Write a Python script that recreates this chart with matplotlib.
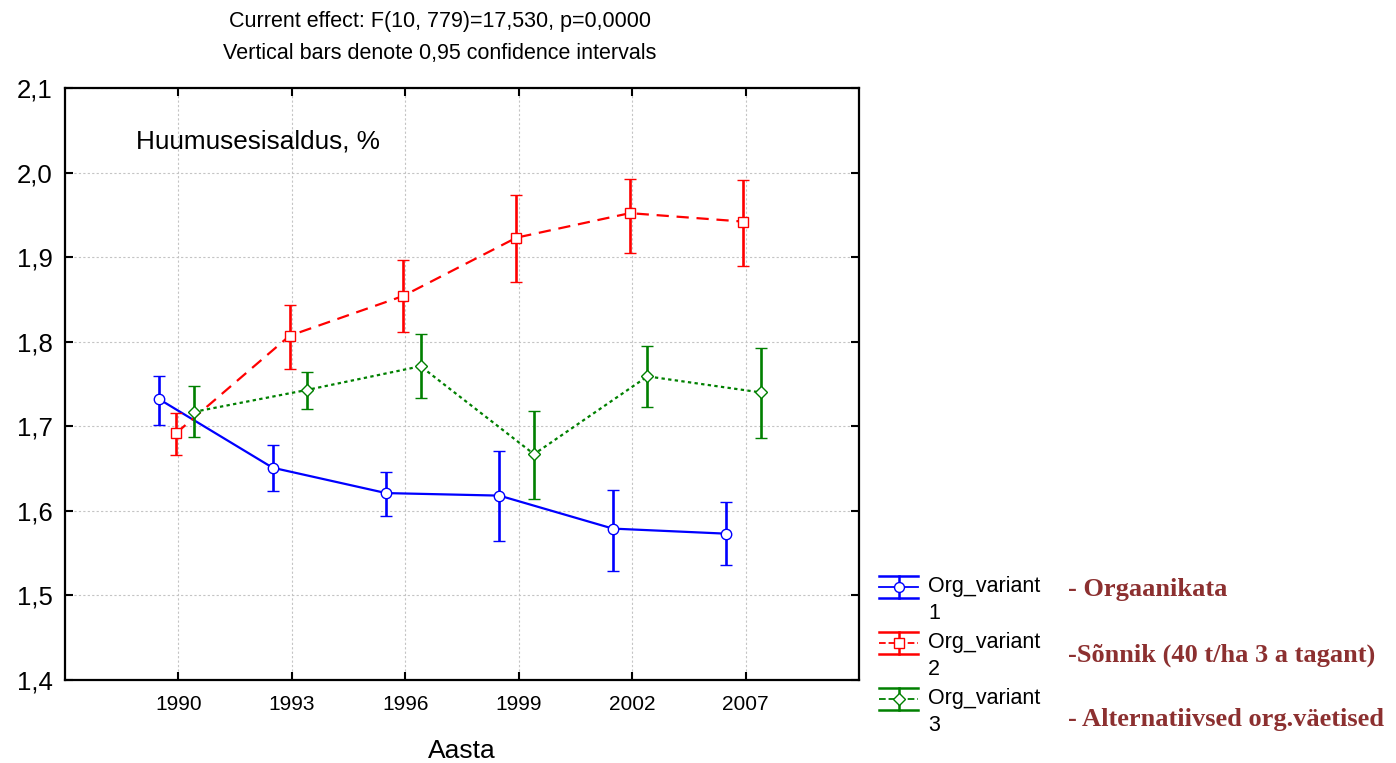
import numpy as np
import matplotlib
matplotlib.use('Agg')
import matplotlib.pyplot as plt
from matplotlib.lines import Line2D
from matplotlib.legend_handler import HandlerBase

plt.rcParams['font.family'] = ['Liberation Sans', 'DejaVu Sans']

years = ['1990', '1993', '1996', '1999', '2002', '2007']
series_names = ['Org_variant\n1', 'Org_variant\n2', 'Org_variant\n3']
descriptions = ['- Orgaanikata', '-Sõnnik (40 t/ha 3 a tagant)', '- Alternatiivsed org.väetised']

# means and 0.95 confidence limits
mean1 = [1.732, 1.651, 1.621, 1.618, 1.579, 1.573]
low1 = [1.701, 1.623, 1.594, 1.564, 1.529, 1.536]
high1 = [1.760, 1.678, 1.646, 1.671, 1.625, 1.610]

mean2 = [1.692, 1.807, 1.854, 1.923, 1.952, 1.942]
low2 = [1.666, 1.768, 1.811, 1.870, 1.905, 1.890]
high2 = [1.716, 1.843, 1.897, 1.973, 1.992, 1.991]

mean3 = [1.717, 1.743, 1.771, 1.667, 1.759, 1.740]
low3 = [1.687, 1.721, 1.734, 1.614, 1.723, 1.686]
high3 = [1.748, 1.764, 1.809, 1.718, 1.795, 1.793]

colors = ['#0000ff', '#ff0000', '#008000']
markers = ['o', 's', 'D']
msizes = [7.5, 7, 6.5]
styles = ['-', (0, (5.5, 3.5)), (0, (1.5, 1.5))]
offsets = [-0.17, -0.02, 0.135]


class HandlerCI(HandlerBase):
    # statistica-like legend key: whisker box with line and marker in the middle
    def create_artists(self, legend, orig_handle, xdescent, ydescent,
                       width, height, fontsize, trans):
        c = orig_handle.get_color()
        yc = height / 2 - ydescent + 10.0
        x0, x1 = -xdescent, -xdescent + width
        xm = (x0 + x1) / 2
        top, bot = yc + 8.0, yc - 8.0
        arts = [
            Line2D([x0, x1], [top, top], color=c, lw=1.8),
            Line2D([x0, x1], [bot, bot], color=c, lw=1.8),
            Line2D([xm, xm], [bot, top], color=c, lw=1.8),
            Line2D([x0, x1], [yc, yc], color=c, lw=1.3, linestyle=orig_handle.get_linestyle()),
            Line2D([xm], [yc], color=c, marker=orig_handle.get_marker(),
                   markersize=orig_handle.get_markersize() * 0.95,
                   markerfacecolor='white', markeredgewidth=1.0, linestyle='none'),
        ]
        for a in arts:
            a.set_transform(trans)
        return arts


fig = plt.figure(figsize=(13.96, 7.63), dpi=100)
ax = fig.add_axes([0.0466, 0.1088, 0.5687, 0.7759])

x = np.arange(len(years))
data = [(mean1, low1, high1), (mean2, low2, high2), (mean3, low3, high3)]
handles = []
for i, (m, lo, hi) in enumerate(data):
    m = np.array(m)
    err = [m - np.array(lo), np.array(hi) - m]
    ax.errorbar(x + offsets[i], m, yerr=err, color=colors[i], linestyle=styles[i],
                linewidth=1.6, marker=markers[i], markersize=msizes[i],
                markerfacecolor='white', markeredgewidth=1.0,
                elinewidth=1.9, capsize=4.5, capthick=1.9, zorder=3 + i)
    handles.append(Line2D([], [], color=colors[i], linestyle=styles[i], marker=markers[i],
                          markersize=msizes[i]))

ax.set_xlim(-1, 6)
ax.set_ylim(1.4, 2.1)
ax.set_xticks(x)
ax.set_xticklabels(years, fontsize=15)
yt = np.arange(1.4, 2.11, 0.1)
ax.set_yticks(yt)
ax.set_yticklabels([f'{v:.1f}'.replace('.', ',') for v in yt], fontsize=18.5)
ax.tick_params(direction='in', top=True, right=True, length=6, width=1.5)
ax.tick_params(axis='x', pad=11)
ax.tick_params(axis='y', pad=9)
for sp in ax.spines.values():
    sp.set_linewidth(1.6)
ax.grid(True, color='#c4c4c4', linestyle=(0, (2, 2)), linewidth=0.8)
ax.set_axisbelow(True)

ax.set_xlabel('Aasta', fontsize=19, labelpad=18)
ax.text(0.089, 0.909, 'Huumusesisaldus, %', transform=ax.transAxes,
        fontsize=18.8, ha='left', va='center')

fig.text(0.315, 0.972, 'Current effect: F(10, 779)=17,530, p=0,0000',
         ha='center', va='center', fontsize=15.5)
fig.text(0.315, 0.930, 'Vertical bars denote 0,95 confidence intervals',
         ha='center', va='center', fontsize=15.5)

leg = fig.legend(handles, series_names, handler_map={Line2D: HandlerCI()},
                 loc='upper left', bbox_to_anchor=(0.630, 0.245), frameon=False,
                 fontsize=15.5, handlelength=1.8, handletextpad=0.45,
                 labelspacing=0.35, borderpad=0, borderaxespad=0)
for t in leg.get_texts():
    t.set_linespacing(1.4)

for txt, yy in zip(descriptions, [0.227, 0.141, 0.057]):
    fig.text(0.765, yy, txt, ha='left', va='center', fontsize=19,
             family=['Liberation Serif', 'DejaVu Serif'], weight='bold', color='#8c3030')

fig.savefig('out.png', dpi=100)
